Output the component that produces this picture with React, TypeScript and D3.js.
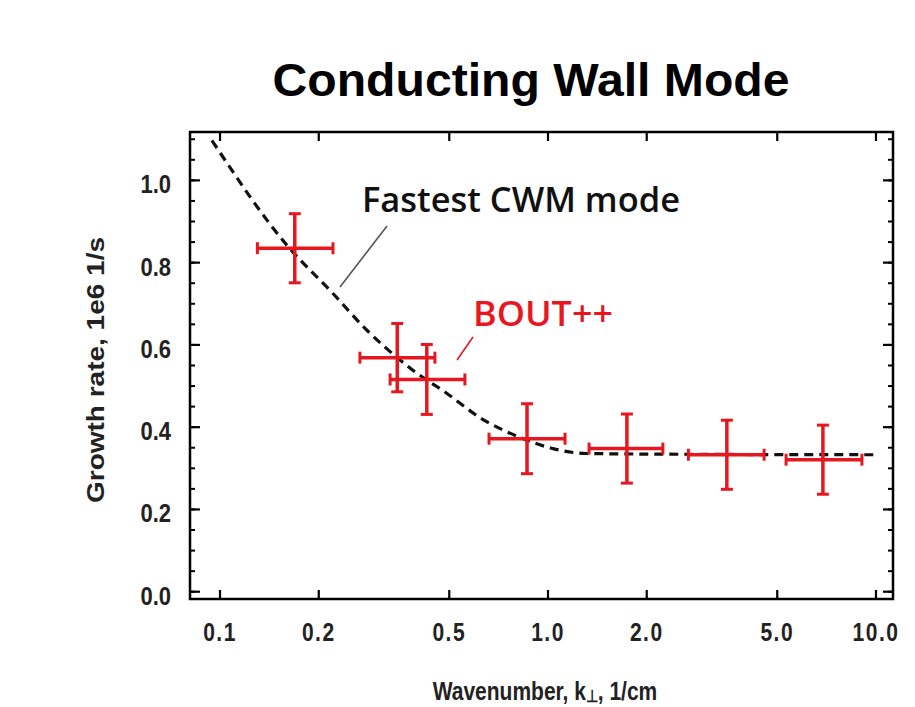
import React from 'react';
import * as d3 from 'd3';

// BOUT++ simulation points (wavenumber k in 1/cm, growth rate in 1e6 1/s)
const kCenters = [0.169, 0.347, 0.427, 0.863, 1.74, 3.51, 6.89];
const kLow = [0.13, 0.267, 0.33, 0.661, 1.334, 2.68, 5.32];
const kHigh = [0.221, 0.452, 0.558, 1.127, 2.24, 4.56, 9.06];
const growth = [0.835, 0.569, 0.516, 0.372, 0.348, 0.333, 0.321];
const growthErr = [0.084, 0.083, 0.085, 0.085, 0.084, 0.084, 0.084];

// Fastest CWM mode (dashed theory curve)
const curveK = [0.0945, 0.16, 0.221, 0.281, 0.314, 0.388, 0.492, 0.621, 0.822, 1.036, 1.315, 2.9, 9.93];
const curveG = [1.097, 0.842, 0.725, 0.635, 0.599, 0.538, 0.482, 0.423, 0.375, 0.348, 0.336, 0.334, 0.333];

const xTickValues = [0.1, 0.2, 0.5, 1, 2, 5, 10];
const xTickLabels = ['0.1', '0.2', '0.5', '1.0', '2.0', '5.0', '10.0'];
const yTickValues = [0, 0.2, 0.4, 0.6, 0.8, 1.0];
const yTickLabels = ['0.0', '0.2', '0.4', '0.6', '0.8', '1.0'];
const yMinorTicks = d3.range(0, 1.11, 0.05);

const W = 915;
const H = 707;
const left = 190, right = 893, top = 132, bottom = 599;

const RED = '#e8171f';
const AXIS_FONT = '"Liberation Sans", Arial, Helvetica, sans-serif';
const NOTE_FONT = '"Open Sans", "Noto Sans", sans-serif';

export default function App() {
  const x = d3.scaleLog().domain([0.08099, 11.27]).range([left, right]);
  const y = d3.scaleLinear().domain([-0.0177, 1.1176]).range([bottom, top]);

  const curvePts: [number, number][] = curveK.map((k, i) => [x(k), y(curveG[i])]);
  const line = d3.line().curve(d3.curveMonotoneX);
  const curvePath = line(curvePts) || '';

  const capH = 6;
  const capV = 6;

  return (
    <svg width={W} height={H} style={{ position: 'absolute', left: 0, top: 0, background: '#fff' }}>
      <rect x={0} y={0} width={W} height={H} fill="#fff" />
      {/* Title */}
      <text x={531} y={96} textAnchor="middle" fontFamily={AXIS_FONT} fontWeight="bold" fontSize={47} fill="#000" textLength={517} lengthAdjust="spacingAndGlyphs">
        Conducting Wall Mode
      </text>

      {/* Theory curve */}
      <path d={curvePath} fill="none" stroke="#111" strokeWidth={3.2} strokeDasharray="9 6" />

      {/* Error bars */}
      {kCenters.map((k, i) => {
        const cx = x(k);
        const cy = y(growth[i]);
        const x0 = x(kLow[i]);
        const x1 = x(kHigh[i]);
        const y0 = y(growth[i] - growthErr[i]);
        const y1 = y(growth[i] + growthErr[i]);
        return (
          <g key={i} stroke={RED} strokeWidth={3.5} fill="none">
            <line x1={x0} y1={cy} x2={x1} y2={cy} />
            <line x1={cx} y1={y0} x2={cx} y2={y1} />
            <line x1={x0} y1={cy - capH} x2={x0} y2={cy + capH} strokeWidth={3} />
            <line x1={x1} y1={cy - capH} x2={x1} y2={cy + capH} strokeWidth={3} />
            <line x1={cx - capV} y1={y0} x2={cx + capV} y2={y0} strokeWidth={3} />
            <line x1={cx - capV} y1={y1} x2={cx + capV} y2={y1} strokeWidth={3} />
          </g>
        );
      })}

      {/* Annotations */}
      <line x1={387} y1={226} x2={340} y2={287} stroke="#555" strokeWidth={1.6} />
      <text
        transform="translate(362,212) scale(1,1.2)"
        fontFamily={NOTE_FONT}
        fontWeight={600}
        fontSize={28}
        fill="#111"
        textLength={318}
        lengthAdjust="spacingAndGlyphs"
      >
        Fastest CWM mode
      </text>
      <line x1={473} y1={337} x2={457} y2={360} stroke={RED} strokeWidth={1.6} />
      <text
        transform="translate(473,326) scale(1,1.2)"
        fontFamily={NOTE_FONT}
        fontWeight={600}
        fontSize={28}
        fill={RED}
        textLength={140}
        lengthAdjust="spacingAndGlyphs"
      >
        BOUT++
      </text>

      {/* Frame */}
      <rect x={left} y={top} width={right - left} height={bottom - top} fill="none" stroke="#000" strokeWidth={2.5} />

      {/* X ticks */}
      {xTickValues.map((v, i) => (
        <g key={'xt' + i}>
          <line x1={x(v)} y1={bottom} x2={x(v)} y2={bottom - 9} stroke="#000" strokeWidth={2.2} />
          <line x1={x(v)} y1={top} x2={x(v)} y2={top + 9} stroke="#000" strokeWidth={2.2} />
          <text
            transform={`translate(${x(v)},641) scale(1,1.25)`}
            textAnchor="middle"
            fontFamily={AXIS_FONT}
            fontWeight="bold"
            fontSize={21}
            letterSpacing={1.5}
            fill="#222"
          >
            {xTickLabels[i]}
          </text>
        </g>
      ))}

      {/* Y minor ticks */}
      {yMinorTicks.map((v, i) => (
        <g key={'ym' + i}>
          <line x1={left} y1={y(v)} x2={left + 5} y2={y(v)} stroke="#000" strokeWidth={2} />
          <line x1={right} y1={y(v)} x2={right - 5} y2={y(v)} stroke="#000" strokeWidth={2} />
        </g>
      ))}
      {/* Y major ticks */}
      {yTickValues.map((v, i) => (
        <g key={'yt' + i}>
          <line x1={left} y1={y(v)} x2={left + 10} y2={y(v)} stroke="#000" strokeWidth={2.2} />
          <line x1={right} y1={y(v)} x2={right - 10} y2={y(v)} stroke="#000" strokeWidth={2.2} />
          <text
            transform={`translate(171,${y(v) + 13}) scale(1,1.2)`}
            textAnchor="end"
            fontFamily={AXIS_FONT}
            fontWeight="bold"
            fontSize={22}
            fill="#222"
          >
            {yTickLabels[i]}
          </text>
        </g>
      ))}

      {/* Y axis title */}
      <text
        transform="translate(104,370) rotate(-90)"
        textAnchor="middle"
        fontFamily={AXIS_FONT}
        fontWeight="bold"
        fontSize={23}
        fill="#222"
        textLength={266}
        lengthAdjust="spacingAndGlyphs"
      >
        Growth rate, 1e6 1/s
      </text>

      {/* X axis title */}
      <text
        transform="translate(545,700) scale(1,1.2)"
        textAnchor="middle"
        fontFamily={AXIS_FONT}
        fontWeight="bold"
        fontSize={21}
        fill="#222"
      >
        Wavenumber, k
        <tspan fontSize={14} dy={2}>⊥</tspan>
        <tspan dy={-2}>, 1/cm</tspan>
      </text>
    </svg>
  );
}
